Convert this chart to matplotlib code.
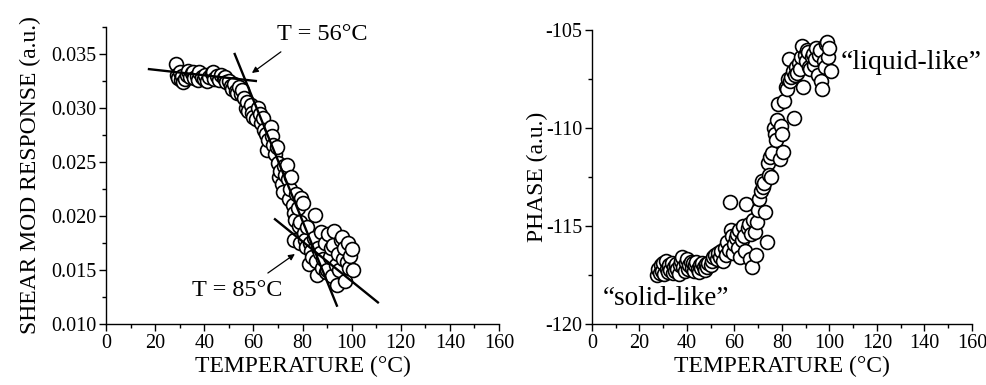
import matplotlib
matplotlib.use("Agg")
import matplotlib.pyplot as plt
from matplotlib.ticker import MultipleLocator, FormatStrFormatter

plt.rcParams['font.family'] = ['Liberation Serif', 'DejaVu Serif']
plt.rcParams['axes.unicode_minus'] = False

# Shear modulus response vs temperature
shear_temp = [28.5, 29, 29.5, 30, 30.5, 31, 31.5, 32, 33, 33.5, 34, 35, 35.5, 36, 37, 37.5,
              38, 39, 40, 40.5, 41, 42, 43, 43.5, 44, 45, 46, 47, 48, 48.5, 49, 50, 51,
              51.5, 52, 53, 53.5, 54, 55, 55.5, 56, 57, 57.5, 58, 59, 59.5, 60, 61, 62,
              62.5, 63, 64, 64.5, 65, 65.5, 66, 67, 67.5, 68, 69, 69.5, 70, 70.5, 71, 71.5,
              72, 72.5, 73, 73.5, 74, 74.5, 75, 75.5, 76, 76.5, 76.5, 77, 77.5, 78, 78.5, 79,
              79, 79.5, 80, 80.5, 81, 81.5, 82, 82.5, 83, 83.5, 84, 84.5, 85, 85.5, 86, 86.5,
              87, 87.5, 88, 88.5, 89, 89.5, 90, 90.5, 91, 91.5, 92, 92.5, 93, 93.5, 94, 94.5,
              95, 95.5, 96, 96.5, 97, 97.5, 98, 98.5, 99, 99.5, 100, 100.5]
shear_resp = [0.0341, 0.0331, 0.0328, 0.0333, 0.0326, 0.0330, 0.0324, 0.0327, 0.0331, 0.0334,
              0.0329, 0.0332, 0.0333, 0.0328, 0.0330, 0.0326, 0.0333, 0.0329, 0.0327, 0.0331,
              0.0325, 0.0329, 0.0332, 0.0333, 0.0327, 0.0330, 0.0326, 0.0331, 0.0328, 0.0329,
              0.0324, 0.0325, 0.0320, 0.0318, 0.0322, 0.0316, 0.0314, 0.0319, 0.0313, 0.0317,
              0.0309, 0.0300, 0.0306, 0.0297, 0.0303, 0.0295, 0.0292, 0.0290, 0.0300, 0.0294,
              0.0286, 0.0291, 0.0280, 0.0276, 0.0261, 0.0270, 0.0282, 0.0274, 0.0266, 0.0257,
              0.0264, 0.0249, 0.0236, 0.0242, 0.0230, 0.0222, 0.0246, 0.0238, 0.0247, 0.0234,
              0.0216, 0.0225, 0.0236, 0.0210, 0.0203, 0.0178, 0.0196, 0.0220, 0.0207, 0.0191,
              0.0194, 0.0175, 0.0217, 0.0212, 0.0184, 0.0178, 0.0171, 0.0190, 0.0156, 0.0175,
              0.0168, 0.0162, 0.0180, 0.0201, 0.0158, 0.0145, 0.0170, 0.0166, 0.0185, 0.0152,
              0.0160, 0.0175, 0.0148, 0.0150, 0.0183, 0.0162, 0.0170, 0.0144, 0.0173, 0.0186,
              0.0155, 0.0136, 0.0165, 0.0150, 0.0178, 0.0181, 0.0160, 0.0170, 0.0140, 0.0157,
              0.0175, 0.0152, 0.0163, 0.0169, 0.0150]

# Tangent lines used to locate the transition temperatures
tangent_plateau_x = [17.5, 61.0]
tangent_plateau_y = [0.0336, 0.0325]
tangent_drop_x = [52.4, 94.0]
tangent_drop_y = [0.0350, 0.0117]
tangent_tail_x = [68.8, 110.7]
tangent_tail_y = [0.0197, 0.0120]

# Phase vs temperature
phase_temp = [27.5, 28, 28.5, 29, 29.5, 30, 30.5, 31, 31.5, 32, 32.5, 33, 33.5, 34, 34.5, 35,
              35.5, 36, 36.5, 37, 37.5, 38, 38.5, 39, 39.5, 40, 40.5, 41, 41.5, 42, 42.5, 43,
              43.5, 44, 44.5, 45, 45.5, 46, 46.5, 47, 47.5, 48, 48.5, 49, 50, 50.5, 51, 52,
              52.5, 53, 54, 54.5, 55, 56, 56.5, 57, 57.5, 58, 58.5, 59, 59.5, 60, 60.5, 61,
              61.5, 62, 62.5, 63, 63.5, 64, 64.5, 65, 65.5, 66, 66.5, 67, 67.5, 68, 68.5, 69,
              69.5, 70, 70.5, 71, 71.5, 72, 72.5, 73, 73.5, 74, 74.5, 75, 75.5, 76, 76.5, 77,
              77.5, 78, 78.5, 79, 79.5, 80, 80.5, 81, 81.5, 82, 82.5, 83, 83.5, 84, 84.5, 85,
              85.5, 86, 86.5, 87, 87.5, 88, 88.5, 89, 89.5, 90, 90.5, 91, 91.5, 92, 92.5, 93,
              93.5, 94, 94.5, 95, 95.5, 96, 96.5, 97, 97.5, 98, 98.5, 99, 99.5, 100, 100.5]
phase_val = [-117.5, -117.2, -117.4, -117.0, -117.3, -116.9, -117.45, -116.8, -117.2, -117.35,
             -117.0, -117.25, -116.9, -117.4, -117.1, -117.3, -116.95, -117.2, -117.45, -117.0,
             -116.8, -116.6, -117.1, -117.3, -116.9, -116.7, -117.2, -117.0, -116.85, -117.15,
             -116.9, -117.3, -117.0, -116.85, -117.2, -117.35, -117.0, -117.15, -116.9, -117.1,
             -117.25, -116.95, -117.1, -116.9, -117.0, -116.8, -116.6, -116.5, -116.7, -116.4,
             -116.6, -116.3, -116.8, -116.1, -116.5, -115.8, -116.2, -113.8, -115.2, -115.5,
             -116.4, -115.9, -115.6, -115.4, -116.1, -115.2, -116.6, -115.7, -115.0, -115.5,
             -116.3, -113.9, -115.1, -114.9, -116.7, -115.4, -117.1, -114.7, -115.3, -116.5,
             -114.8, -114.2, -113.6, -113.2, -112.7, -113.0, -112.8, -114.3, -115.8, -111.8,
             -112.4, -111.5, -112.5, -111.3, -110.0, -110.3, -110.6, -109.6, -108.8, -111.6,
             -109.9, -110.3, -111.2, -108.6, -107.9, -108.0, -107.5, -106.5, -107.6, -107.4,
             -107.1, -109.5, -107.3, -106.9, -107.2, -106.7, -107.0, -106.4, -105.8, -107.9,
             -106.3, -106.6, -106.0, -106.1, -106.9, -107.0, -106.4, -106.2, -106.8, -106.5,
             -105.9, -107.3, -106.3, -106.0, -107.6, -108.0, -106.6, -106.9, -105.7, -105.6,
             -106.4, -105.9, -107.1]

W, H = 987, 385
fig = plt.figure(figsize=(W / 100, H / 100), dpi=100)

ax1 = fig.add_axes([106 / W, (H - 324) / H, 393 / W, 297 / H])
ax2 = fig.add_axes([592 / W, (H - 324) / H, 380 / W, 294 / H])

marker_kw = dict(linestyle='none', marker='o', markersize=10, markerfacecolor='white',
                 markeredgecolor='black', markeredgewidth=1.2, zorder=2)
arrow_kw = dict(arrowstyle='-|>', color='black', lw=0.9, mutation_scale=9,
                shrinkA=0, shrinkB=0)

# Left panel
ax1.plot(shear_temp, shear_resp, **marker_kw)
for xs, ys in [(tangent_plateau_x, tangent_plateau_y),
               (tangent_drop_x, tangent_drop_y),
               (tangent_tail_x, tangent_tail_y)]:
    ax1.plot(xs, ys, color='black', linewidth=1.7, zorder=3)

ax1.annotate('', xy=(59.4, 0.03324), xytext=(71.2, 0.0352), arrowprops=arrow_kw)
ax1.text(87.9, 0.0368, 'T = 56°C', fontsize=17.5, ha='center', va='center')
ax1.annotate('', xy=(76.9, 0.01648), xytext=(65.9, 0.01472), arrowprops=arrow_kw)
ax1.text(53.3, 0.01308, 'T = 85°C', fontsize=17.5, ha='center', va='center')

ax1.set_xlim(0, 160)
ax1.set_ylim(0.010, 0.0375)
ax1.xaxis.set_major_locator(MultipleLocator(20))
ax1.xaxis.set_minor_locator(MultipleLocator(10))
ax1.yaxis.set_major_locator(MultipleLocator(0.005))
ax1.yaxis.set_minor_locator(MultipleLocator(0.0025))
ax1.yaxis.set_major_formatter(FormatStrFormatter('%.3f'))
ax1.set_xlabel('TEMPERATURE (°C)', fontsize=17, labelpad=2)
ax1.set_ylabel('SHEAR MOD RESPONSE (a.u.)', fontsize=17, labelpad=7)

# Right panel
ax2.plot(phase_temp, phase_val, **marker_kw)
ax2.text(31.2, -118.72, '\u201csolid-like\u201d', fontsize=19.5, ha='center', va='center')
ax2.text(134.3, -106.68, '\u201cliquid-like\u201d', fontsize=20, ha='center', va='center')

ax2.set_xlim(0, 160)
ax2.set_ylim(-120, -105)
ax2.xaxis.set_major_locator(MultipleLocator(20))
ax2.xaxis.set_minor_locator(MultipleLocator(10))
ax2.yaxis.set_major_locator(MultipleLocator(5))
ax2.yaxis.set_minor_locator(MultipleLocator(2.5))
ax2.yaxis.set_major_formatter(FormatStrFormatter('%d'))
ax2.set_xlabel('TEMPERATURE (°C)', fontsize=17, labelpad=2)
ax2.set_ylabel('PHASE (a.u.)', fontsize=17, labelpad=-2)

for ax in (ax1, ax2):
    ax.spines['top'].set_visible(False)
    ax.spines['right'].set_visible(False)
    ax.spines['left'].set_linewidth(1.0)
    ax.spines['bottom'].set_linewidth(1.0)
    ax.tick_params(which='major', direction='out', length=5, width=1.0, labelsize=14.5, pad=2)
    ax.tick_params(which='minor', direction='out', length=3, width=1.0)

fig.savefig('out.png', dpi=100)
